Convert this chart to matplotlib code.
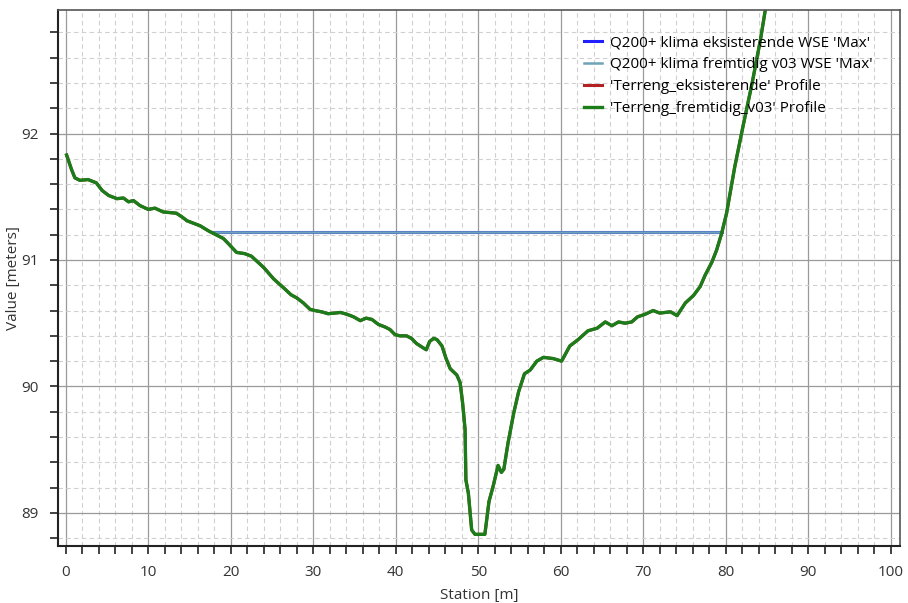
import matplotlib
matplotlib.use("Agg")
import matplotlib.pyplot as plt
from matplotlib.ticker import MultipleLocator

plt.rcParams['font.family'] = ['Open Sans', 'DejaVu Sans']

# terrain profile (station m, elevation m)
station = [0.1, 0.7, 1.1, 1.7, 2.7, 3.7, 4.4, 5.2, 6.2, 7.0, 7.6, 8.2, 9.0,
           10.0, 10.8, 11.8, 13.4, 14.1, 14.7, 15.5, 16.3, 17.3, 17.9, 19.1,
           19.7, 20.7, 21.7, 22.5, 24.0, 25.2, 26.4, 27.3, 28.0, 28.8, 29.6,
           30.2, 31.0, 31.8, 32.6, 33.3, 34.1, 34.9, 35.7, 36.4, 37.1, 37.9,
           38.7, 39.3, 39.9, 40.5, 41.3, 41.9, 42.5, 43.2, 43.7, 44.1, 44.6,
           45.0, 45.6, 46.1, 46.6, 47.4, 47.8, 48.1, 48.4, 48.5, 48.8, 49.2,
           49.6, 50.8, 51.3, 51.8, 52.4, 52.8, 53.1, 53.6, 54.3, 54.9, 55.6,
           56.3, 57.1, 57.9, 59.1, 60.1, 61.1, 62.1, 63.3, 64.4, 65.4, 66.2,
           67.0, 67.8, 68.6, 69.3, 70.2, 71.2, 72.0, 73.3, 74.1, 75.1, 76.1,
           76.9, 77.5, 78.3, 78.9, 79.5, 80.1, 81.1, 82.1, 83.2, 84.2, 84.8,
           85.5]
terrain = [91.83, 91.715, 91.65, 91.63, 91.636, 91.61, 91.55, 91.51, 91.485,
           91.49, 91.46, 91.47, 91.43, 91.40, 91.41, 91.38, 91.37, 91.34,
           91.31, 91.29, 91.27, 91.23, 91.21, 91.17, 91.13, 91.06, 91.05,
           91.03, 90.94, 90.85, 90.78, 90.725, 90.70, 90.66, 90.61, 90.60,
           90.59, 90.575, 90.58, 90.585, 90.57, 90.55, 90.52, 90.54, 90.53,
           90.49, 90.47, 90.45, 90.41, 90.40, 90.40, 90.38, 90.34, 90.31,
           90.29, 90.355, 90.38, 90.37, 90.32, 90.22, 90.14, 90.09, 90.03,
           89.87, 89.66, 89.26, 89.155, 88.865, 88.83, 88.83, 89.09, 89.21,
           89.375, 89.32, 89.345, 89.55, 89.79, 89.96, 90.10, 90.13, 90.20,
           90.23, 90.22, 90.20, 90.32, 90.37, 90.44, 90.46, 90.51, 90.48,
           90.51, 90.50, 90.51, 90.55, 90.57, 90.60, 90.58, 90.59, 90.56,
           90.66, 90.72, 90.79, 90.88, 90.98, 91.08, 91.21, 91.37, 91.74,
           92.06, 92.40, 92.74, 92.98, 93.3]

# max water surface elevation
wse_station = [17.9, 79.5]
wse_level = [91.22, 91.22]

labels = ["Q200+ klima eksisterende WSE 'Max'",
          "Q200+ klima fremtidig v03 WSE 'Max'",
          "'Terreng_eksisterende' Profile",
          "'Terreng_fremtidig_v03' Profile"]

fig = plt.figure(figsize=(9.08, 6.03), dpi=100)
ax = fig.add_axes([0.064, 0.095, 0.927, 0.889])

ax.plot(wse_station, wse_level, color='#1f1fff', lw=2.2, label=labels[0])
ax.plot(wse_station, wse_level, color='#6fa3b8', lw=1.8, label=labels[1])
ax.plot(station, terrain, color='#b22222', lw=2.2, label=labels[2])
ax.plot(station, terrain, color='#1a7d1a', lw=2.4, label=labels[3])

ax.set_xlim(-0.93, 101.1)
ax.set_ylim(88.74, 92.98)
ax.xaxis.set_major_locator(MultipleLocator(10))
ax.xaxis.set_minor_locator(MultipleLocator(2))
ax.yaxis.set_major_locator(MultipleLocator(1))
ax.yaxis.set_minor_locator(MultipleLocator(0.2))

ax.grid(which='major', color='#9a9a9a', lw=0.9, ls='-')
ax.grid(which='minor', color='#d0d0d0', lw=0.8, ls=(0, (4, 3)))
ax.set_axisbelow(True)

ax.tick_params(which='both', direction='out', length=6, width=1.2, pad=8,
               color='#222222', labelsize=11, labelcolor='#333333')
for side in ['left', 'bottom']:
    ax.spines[side].set_linewidth(1.5)
    ax.spines[side].set_color('#222222')
for side in ['top', 'right']:
    ax.spines[side].set_linewidth(1.2)
    ax.spines[side].set_color('#555555')

ax.set_xlabel("Station [m]", fontsize=11, color='#333333')
ax.set_ylabel("Value [meters]", fontsize=11, color='#333333')
ax.xaxis.set_label_coords(0.5, -0.078)
ax.yaxis.set_label_coords(-0.044, 0.5)

ax.legend(loc='upper left', bbox_to_anchor=(0.617, 0.963), frameon=False,
          fontsize=11, handlelength=1.2, handletextpad=0.5, labelspacing=0.45,
          borderaxespad=0.0)

fig.savefig("out.png", dpi=100)
